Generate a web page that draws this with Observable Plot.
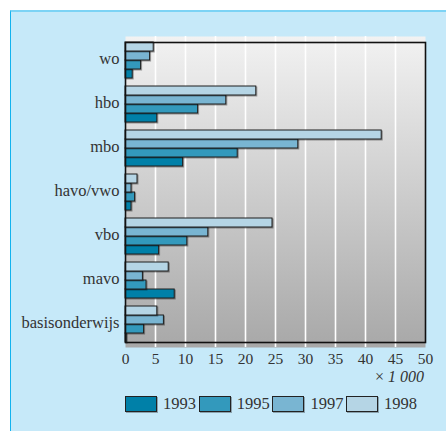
<!DOCTYPE html>
<html><head><meta charset="utf-8">
<script src="https://cdn.jsdelivr.net/npm/d3@7"></script>
<script src="https://cdn.jsdelivr.net/npm/@observablehq/plot@0.6"></script>
<style>
html,body{margin:0;padding:0;background:#fff;width:446px;height:431px;overflow:hidden;}
#panel{position:absolute;left:10px;top:10px;right:0;bottom:0;background:#c6e9f9;border-left:1px solid #12b2ee;border-top:2px solid #7cd3f5;}
#wrap{position:absolute;left:0;top:0;width:446px;}
#chart{position:relative;width:446px;height:366px;}
#chart svg{display:block;overflow:visible;position:absolute;left:0;top:0;}
g[aria-label="bar"] rect{filter:drop-shadow(1px 1px 0 rgba(0,0,0,0.35));}
#unit{font-family:"Liberation Serif",serif;font-size:16px;color:#333;text-align:right;padding-right:22px;height:22px;line-height:22px;}
#legend{display:flex;padding-left:125px;margin-top:6px;font-family:"Liberation Serif",serif;font-size:16.5px;color:#333;}
.item{display:flex;align-items:center;width:73.7px;}
.sw{width:30px;height:14px;border:1px solid #222;margin-right:6px;box-shadow:1px 1px 0 rgba(0,0,0,0.3);}
</style>
</head><body>
<div id="panel"></div>
<div id="wrap">
  <div id="chart"></div>
  <div id="unit">× <i>1 000</i></div>
  <div id="legend"></div>
</div>
<script>
const categories = ["wo", "hbo", "mbo", "havo/vwo", "vbo", "mavo", "basisonderwijs"];
const years = ["1993", "1995", "1997", "1998"];
const colors = ["#0080a8", "#3399bc", "#79b5d2", "#b5d5e5"];
const v1993 = [1.2, 5.3, 9.6, 1.0, 5.6, 8.2, 0.2];
const v1995 = [2.6, 12.1, 18.7, 1.6, 10.3, 3.5, 3.1];
const v1997 = [4.1, 16.8, 28.8, 1.0, 13.8, 2.9, 6.4];
const v1998 = [4.7, 21.8, 42.7, 2.0, 24.5, 7.2, 5.3];
const xTicks = [0, 5, 10, 15, 20, 25, 30, 35, 40, 45, 50];

const series = [v1993, v1995, v1997, v1998];
const data = categories.flatMap((c, i) => years.map((y, j) => ({category: c, year: y, value: series[j][i]})));

const font = "'Liberation Serif', serif";
const common = {
  width: 446, height: 366,
  marginLeft: 125, marginRight: 21, marginTop: 36, marginBottom: 19,
  style: {background: "transparent", fontFamily: font, color: "#333", overflow: "visible"},
  x: {domain: [0, 50]}
};

// background layer: gradient, grid, x axis
const bg = Plot.plot({
  ...common,
  marks: [
    Plot.frame({fill: "url(#bggrad)"}),
    Plot.gridX(xTicks.slice(1, -1), {stroke: "#fff", strokeOpacity: 1, strokeWidth: 1.6}),
    Plot.axisX(xTicks, {tickSize: 0, tickPadding: 5, fontSize: 15.5, label: null})
  ]
});

// foreground layer: faceted bars, frame, category axis
const fg = Plot.plot({
  ...common,
  fy: {domain: categories, paddingInner: 0.19, paddingOuter: 0.097, label: null, axis: null},
  y: {domain: years.slice().reverse(), padding: 0, axis: null},
  color: {domain: years, range: colors},
  marks: [
    Plot.barX(data, {x: "value", y: "year", fy: "category", fill: "year", stroke: "#1e1e1e", strokeWidth: 1}),
    Plot.frame({stroke: "#111", strokeWidth: 1.6, facet: "super"}),
    Plot.axisFy({anchor: "left", tickSize: 0, tickPadding: 6, fontSize: 16.5, dy: -2, label: null}),
    Plot.axisX({ticks: [], label: null, tickSize: 0})
  ]
});

const ns = "http://www.w3.org/2000/svg";
const defs = document.createElementNS(ns, "defs");
const grad = document.createElementNS(ns, "linearGradient");
grad.setAttribute("id", "bggrad");
grad.setAttribute("x1", "0"); grad.setAttribute("y1", "0");
grad.setAttribute("x2", "0"); grad.setAttribute("y2", "1");
[["0", "#f2f2f2"], ["1", "#a8a8a8"]].forEach(([o, c]) => {
  const s = document.createElementNS(ns, "stop");
  s.setAttribute("offset", o); s.setAttribute("stop-color", c);
  grad.appendChild(s);
});
defs.appendChild(grad);
bg.insertBefore(defs, bg.firstChild);
const holder = document.getElementById("chart");
holder.appendChild(bg);
holder.appendChild(fg);

const legend = document.getElementById("legend");
years.forEach((y, i) => {
  const item = document.createElement("div");
  item.className = "item";
  const sw = document.createElement("div");
  sw.className = "sw";
  sw.style.background = colors[i];
  const t = document.createElement("span");
  t.textContent = y;
  item.appendChild(sw); item.appendChild(t);
  legend.appendChild(item);
});
</script>
</body></html>
